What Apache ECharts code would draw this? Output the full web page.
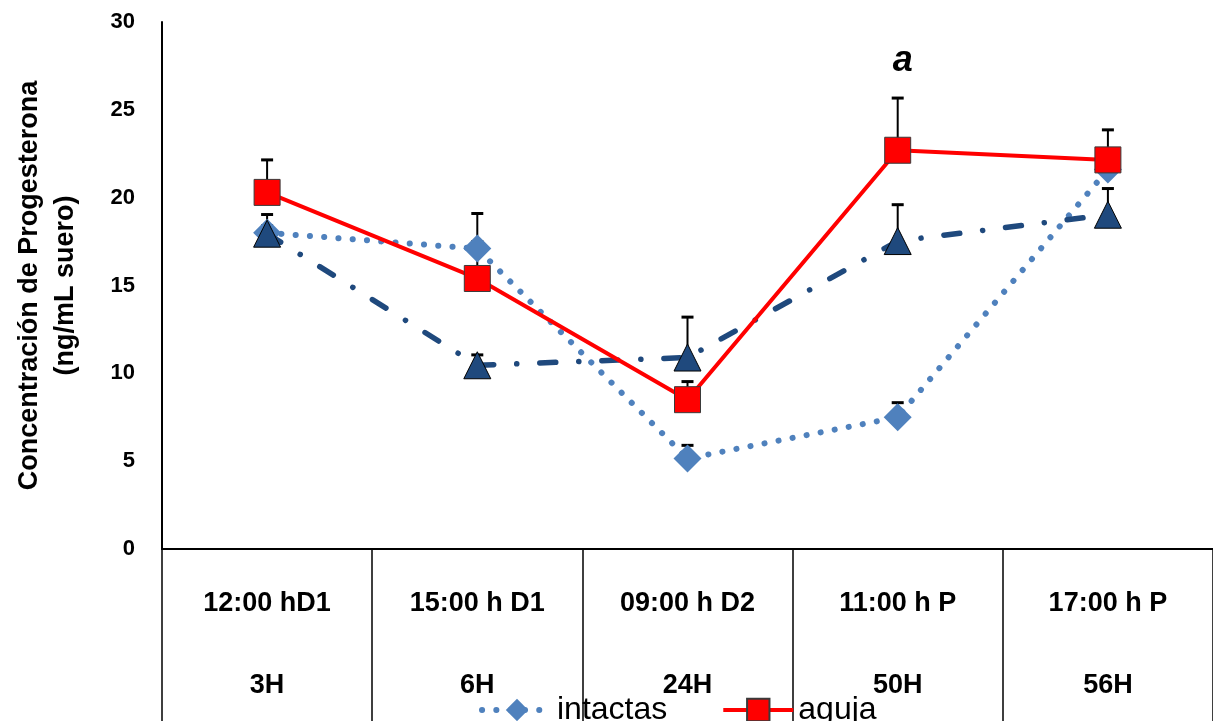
<!DOCTYPE html>
<html><head><meta charset="utf-8">
<script src="https://cdn.jsdelivr.net/npm/echarts@6/dist/echarts.min.js"></script>
<style>html,body{margin:0;padding:0;background:#fff}#c{width:1213px;height:721px}</style>
</head><body><div id="c"></div>
<script>
// ---- data ----
const categoriesHours = ['3H', '6H', '24H', '50H', '56H'];
const categoriesTime = ['12:00 hD1', '15:00 h D1', '09:00 h D2', '11:00 h P', '17:00 h P'];
const intactas = [18.0, 17.1, 5.15, 7.5, 21.6];
const intactasErr = [0.4, 0.4, 0.75, 0.83, 0.5];
const aguja = [20.3, 15.4, 8.5, 22.7, 22.15];
const agujaErr = [1.85, 3.7, 1.03, 2.97, 1.71];
const serie3 = [17.95, 10.46, 10.9, 17.53, 19.03];
const serie3Err = [1.09, 0.59, 2.3, 2.07, 1.49];
const yMin = 0, yMax = 30, yStep = 5;
const annotationCat = '50H', annotationVal = 27.75, annotationText = 'a';
const legendNames = ['intactas', 'aguja'];

// ---- chart ----
const FONT = 'Liberation Sans';
const errData = [];
[[intactas, intactasErr], [aguja, agujaErr], [serie3, serie3Err]].forEach(([m, e]) => {
  m.forEach((v, i) => errData.push([i, v, v + e[i]]));
});

const chart = echarts.init(document.getElementById('c'), null, {renderer: 'canvas'});
chart.setOption({
  backgroundColor: '#ffffff',
  animation: false,
  textStyle: {fontFamily: FONT},
  grid: {left: 162, top: 22, width: 1052, height: 527, containLabel: false},
  legend: {
    data: legendNames,
    left: 474, top: 689,
    itemWidth: 70, itemHeight: 28, itemGap: 54,
    lineStyle: {width: 'inherit'},
    textStyle: {fontFamily: FONT, fontSize: 32, color: '#000'}
  },
  xAxis: {
    type: 'category',
    data: categoriesHours,
    boundaryGap: true,
    axisLine: {show: true, lineStyle: {color: '#000', width: 2}},
    axisTick: {show: true, interval: 0, alignWithLabel: false, length: 172, lineStyle: {color: '#000', width: 1.5}},
    axisLabel: {
      interval: 0, margin: 14,
      formatter: (v, i) => '{a|' + categoriesTime[i] + '}\n{b|' + v + '}',
      rich: {
        a: {fontFamily: FONT, fontSize: 27, fontWeight: 'bold', color: '#000', lineHeight: 82},
        b: {fontFamily: FONT, fontSize: 27, fontWeight: 'bold', color: '#000', lineHeight: 82}
      }
    }
  },
  yAxis: {
    type: 'value', min: yMin, max: yMax, interval: yStep,
    name: 'Concentración de Progesterona\n(ng/mL suero)',
    nameLocation: 'middle', nameRotate: 90, nameGap: 78,
    nameTextStyle: {fontFamily: FONT, fontSize: 27, fontWeight: 'bold', color: '#000', lineHeight: 36},
    axisLine: {show: true, lineStyle: {color: '#000', width: 2}},
    axisTick: {show: false},
    splitLine: {show: false},
    axisLabel: {margin: 27, fontFamily: FONT, fontSize: 22, fontWeight: 'bold', color: '#000'}
  },
  series: [
    {
      type: 'custom', name: 'err', z: 1, silent: true,
      data: errData,
      renderItem: (params, api) => {
        const lo = api.coord([api.value(0), api.value(1)]);
        const hi = api.coord([api.value(0), api.value(2)]);
        return {type: 'group', children: [
          {type: 'line', shape: {x1: hi[0], y1: hi[1], x2: lo[0], y2: lo[1]}, style: {stroke: '#000', lineWidth: 2}},
          {type: 'line', shape: {x1: hi[0] - 6, y1: hi[1], x2: hi[0] + 6, y2: hi[1]}, style: {stroke: '#000', lineWidth: 3}}
        ]};
      }
    },
    {
      type: 'line', name: 'intactas', z: 2, data: intactas,
      symbol: 'diamond', symbolSize: 28,
      itemStyle: {color: '#4F81BD', borderWidth: 0},
      lineStyle: {color: '#4F81BD', width: 6, type: [0.1, 14.2], cap: 'round'}
    },
    {
      type: 'line', name: 'serie 3', z: 3, data: serie3,
      symbol: 'triangle', symbolSize: [27, 27],
      itemStyle: {color: '#1F497D', borderColor: '#000', borderWidth: 1},
      lineStyle: {color: '#1F497D', width: 5.5, type: [16, 23, 0.1, 23], cap: 'round'}
    },
    {
      type: 'line', name: 'aguja', z: 4, data: aguja,
      symbol: 'rect', symbolSize: 26,
      itemStyle: {color: '#FF0000', borderColor: '#3a3a3a', borderWidth: 1},
      lineStyle: {color: '#FF0000', width: 4},
      markPoint: {
        symbol: 'circle', symbolSize: 0,
        data: [{coord: [annotationCat, annotationVal], value: annotationText}],
        label: {show: true, position: 'inside', offset: [5, 0], formatter: annotationText,
                fontFamily: FONT, fontSize: 36, fontWeight: 'bold', fontStyle: 'italic', color: '#000'}
      }
    }
  ]
});
</script></body></html>
